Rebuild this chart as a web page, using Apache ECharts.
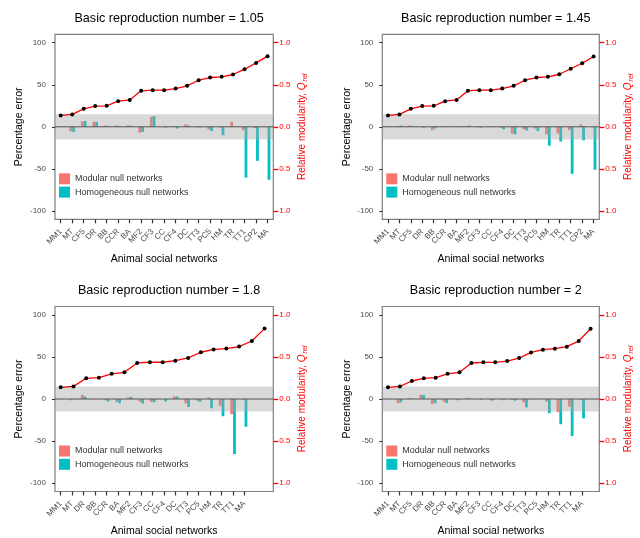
<!DOCTYPE html>
<html><head><meta charset="utf-8">
<script src="https://cdn.jsdelivr.net/npm/echarts@6/dist/echarts.min.js"></script>
<style>html,body{margin:0;padding:0;background:#fff}#c{width:640px;height:538px}</style>
</head><body><div id="c"></div>
<script>
// ---- data ----
const titles = ['Basic reproduction number = 1.05', 'Basic reproduction number = 1.45', 'Basic reproduction number = 1.8', 'Basic reproduction number = 2'];
const seriesNames = ['Modular null networks', 'Homogeneous null networks'];
const leftTicks = [-100, -50, 0, 50, 100];
const rightTicks = [-1, -0.5, 0, 0.5, 1];
const bandLimits = [-15, 15];

const cats105 = ['MM1','MT','CF5','DR','BB','CCR','BA','MF2','CF3','CC','CF4','DC','TT3','PC5','HM','TR','TT1','CP2','MA'];
const mod105 = [0.3, -5.5, 6.5, 6, 1.5, 1.5, 2, -7, 12, -0.3, 0.5, 3, -0.3, -3, -1, 6, -4, -1.5, -0.5];
const hom105 = [-0.5, -6, 7, 6, 1, 0.8, 1.2, -6, 12.7, -1, -2, 1.5, -1, -5, -10, 1, -60.5, -40.5, -63];
const q105 = [0.135, 0.147, 0.214, 0.246, 0.25, 0.305, 0.32, 0.428, 0.436, 0.436, 0.455, 0.487, 0.554, 0.586, 0.594, 0.622, 0.685, 0.76, 0.84];

const cats145 = ['MM1','MT','CF5','DR','BB','CCR','BA','MF2','CF3','CC','CF4','DC','TT3','PC5','HM','TR','TT1','CP2','MA'];
const mod145 = [0.5, 1, 1.5, 0, -4, 0.3, 0, 1, -0.5, 0.5, -1, -8, -3, -2, -9, -8, -4, 3, -0.3];
const hom145 = [0.5, 1.5, 1, -1, -2, 0.2, 0.3, 1.5, -1, -0.5, -3, -9, -4.5, -5, -22.5, -17.5, -56, -16, -51];
const q145 = [0.135, 0.147, 0.214, 0.246, 0.25, 0.305, 0.32, 0.43, 0.436, 0.436, 0.455, 0.487, 0.554, 0.586, 0.594, 0.625, 0.69, 0.756, 0.836];

const cats18 = ['MM1','MT','DR','BB','CCR','BA','MF2','CF3','CC','CF4','DC','TT3','PC5','HM','TR','TT1','MA'];
const mod18 = [0.3, -1.5, 5, -0.5, -1.5, -3.5, 2, -3, -3.5, 0, 3, -5, -2, 2, -8, -18, -1];
const hom18 = [-0.3, -0.3, 3, -0.3, -3, -5, 2.5, -5.5, -4, -3, 3, -9.5, -3.5, -11, -20.5, -65.5, -33];
const q18 = [0.139, 0.15, 0.246, 0.254, 0.30, 0.317, 0.429, 0.437, 0.437, 0.456, 0.488, 0.556, 0.59, 0.60, 0.623, 0.69, 0.837];

const cats2 = ['MM1','MT','CF5','DR','BB','CCR','BA','MF2','CF3','CC','CF4','DC','TT3','PC5','HM','TR','TT1','MA'];
const mod2 = [0.2, -5, 1, 5, -6, -3, 0.3, 1, 0, 0.3, 0.3, -0.5, -4, -0.5, -3, -15.5, -9, -0.3];
const hom2 = [-0.3, -4, 0.5, 5, -5, -5, -1.5, 1, -1, -2, -1.5, -2, -10, 0.2, -17, -30, -44, -23];
const q2 = [0.139, 0.15, 0.214, 0.246, 0.253, 0.30, 0.317, 0.428, 0.436, 0.436, 0.451, 0.487, 0.554, 0.586, 0.598, 0.622, 0.689, 0.835];

// ---- layout ----
const SLOTS = 19;
const FONT = '"Liberation Sans", Arial, Helvetica, sans-serif';
const panels = [
  {title: titles[0], cats: cats105, mod: mod105, hom: hom105, q: q105, left: 55, top: 34.3, width: 218.3, lineMin: -0.5, lineMax: 18.5},
  {title: titles[1], cats: cats145, mod: mod145, hom: hom145, q: q145, left: 382.3, top: 34.3, width: 217, lineMin: -0.5, lineMax: 18.5},
  {title: titles[2], cats: cats18, mod: mod18, hom: hom18, q: q18, left: 55, top: 306.5, width: 218.3, lineMin: -0.451, lineMax: 16.685},
  {title: titles[3], cats: cats2, mod: mod2, hom: hom2, q: q2, left: 382.3, top: 306.5, width: 217, lineMin: -0.479, lineMax: 17.728}
];
const H = 185;
const YMIN = -110, YMAX = 110;

const option = {animation: false, textStyle: {fontFamily: FONT}, title: [], grid: [], xAxis: [], yAxis: [], legend: [], series: []};

panels.forEach((p, k) => {
  const gOuter = 2 * k, gBar = 2 * k + 1;
  const xCat = 2 * k, xVal = 2 * k + 1;
  const yLeft = 3 * k, yRight = 3 * k + 1, yBar = 3 * k + 2;
  // tick positions at the category slot centres, expressed on the outer value axis
  const slotTicks = p.cats.map((c, j) => p.lineMin + (j + 0.5) / SLOTS * (p.lineMax - p.lineMin));

  option.title.push({text: p.title, left: p.left + p.width / 2, top: p.top - 27, textAlign: 'center',
    textStyle: {fontSize: 12.6, fontWeight: 'normal', color: '#000', fontFamily: FONT}});
  option.grid.push({left: p.left, top: p.top, width: p.width, height: H, show: true,
    borderColor: '#7f7f7f', borderWidth: 1.2, backgroundColor: 'transparent'});
  option.grid.push({left: p.left, top: p.top, width: p.width * p.cats.length / SLOTS, height: H, show: false});

  option.xAxis.push({gridIndex: gBar, type: 'category', data: p.cats, boundaryGap: true, position: 'bottom',
    axisLine: {show: false, onZero: false}, axisTick: {show: false},
    axisLabel: {interval: 0, rotate: 45, fontSize: 8, color: '#4d4d4d', margin: 11},
    splitLine: {show: false}});
  option.xAxis.push({gridIndex: gOuter, type: 'value', min: p.lineMin, max: p.lineMax, position: 'bottom',
    axisLine: {show: true, onZero: false, lineStyle: {color: '#7f7f7f', width: 1.2}},
    axisTick: {show: true, length: 4, customValues: slotTicks, lineStyle: {color: '#333', width: 1.2}},
    axisLabel: {show: false, customValues: slotTicks}, splitLine: {show: false},
    name: 'Animal social networks', nameLocation: 'middle', nameGap: 34,
    nameTextStyle: {fontSize: 10.5, color: '#000'}});

  option.yAxis.push({gridIndex: gOuter, type: 'value', min: YMIN, max: YMAX, position: 'left',
    axisLine: {show: false, onZero: false},
    axisTick: {show: true, length: 3, customValues: leftTicks, lineStyle: {color: '#333', width: 1.1}},
    axisLabel: {customValues: leftTicks, fontSize: 8, color: '#4d4d4d', margin: 9},
    splitLine: {show: false},
    name: 'Percentage error', nameLocation: 'middle', nameGap: 30, nameRotate: 90,
    nameTextStyle: {fontSize: 10.5, color: '#000'}});
  option.yAxis.push({gridIndex: gOuter, type: 'value', min: -1.1, max: 1.1, position: 'right',
    axisLine: {show: false, onZero: false},
    axisTick: {show: true, length: 5, customValues: rightTicks, lineStyle: {color: '#ff0000', width: 1.3}},
    axisLabel: {customValues: rightTicks, fontSize: 8, color: '#ff0000', margin: 6,
      formatter: v => Math.abs(v).toFixed(1)},
    splitLine: {show: false},
    name: 'Relative modularity, {q|Q}{s|rel}', nameLocation: 'middle', nameGap: 23, nameRotate: 90,
    nameTextStyle: {fontSize: 10, color: '#ff0000',
      rich: {q: {fontSize: 10, fontStyle: 'italic', color: '#ff0000'},
             s: {fontSize: 7, fontStyle: 'italic', color: '#ff0000', verticalAlign: 'bottom', padding: [5, 0, 0, 1]}}}});
  option.yAxis.push({gridIndex: gBar, type: 'value', min: YMIN, max: YMAX, show: false,
    axisLine: {onZero: false}, splitLine: {show: false}});

  option.legend.push({left: p.left + 4, top: p.top + 139, padding: 0, orient: 'vertical', itemWidth: 11, itemHeight: 11, itemGap: 2.3,
    icon: 'rect', selectedMode: false, data: seriesNames, textStyle: {fontSize: 9, color: '#333'}});

  option.series.push({type: 'bar', name: seriesNames[0], xAxisIndex: xCat, yAxisIndex: yBar, data: p.mod,
    barWidth: 2.8, barGap: '0%', itemStyle: {color: '#F8766D'}, z: 2});
  option.series.push({type: 'bar', name: seriesNames[1], xAxisIndex: xCat, yAxisIndex: yBar, data: p.hom,
    barWidth: 2.8, barGap: '0%', itemStyle: {color: '#00BFC4'}, z: 2});
  option.series.push({type: 'custom', xAxisIndex: xVal, yAxisIndex: yLeft, data: [[0, 0]], z: 3, silent: true,
    renderItem: (params, api) => {
      const cs = params.coordSys;
      const yTop = api.coord([0, bandLimits[1]])[1];
      const yBot = api.coord([0, bandLimits[0]])[1];
      const y0 = api.coord([0, 0])[1];
      return {type: 'group', children: [
        {type: 'rect', shape: {x: cs.x, y: yTop, width: cs.width, height: yBot - yTop}, style: {fill: 'rgba(165,165,165,0.42)'}},
        {type: 'line', shape: {x1: cs.x, y1: y0, x2: cs.x + cs.width, y2: y0}, style: {stroke: '#555', lineWidth: 1}}
      ]};
    }});
  option.series.push({type: 'line', xAxisIndex: xVal, yAxisIndex: yRight, data: p.q.map((v, i) => [i, v]),
    lineStyle: {color: '#ff0000', width: 1.3}, symbol: 'circle', symbolSize: 4, showSymbol: true,
    itemStyle: {color: '#000'}, z: 4, silent: true});
});

const chart = echarts.init(document.getElementById('c'), null, {renderer: 'canvas'});
chart.setOption(option);
</script></body></html>
